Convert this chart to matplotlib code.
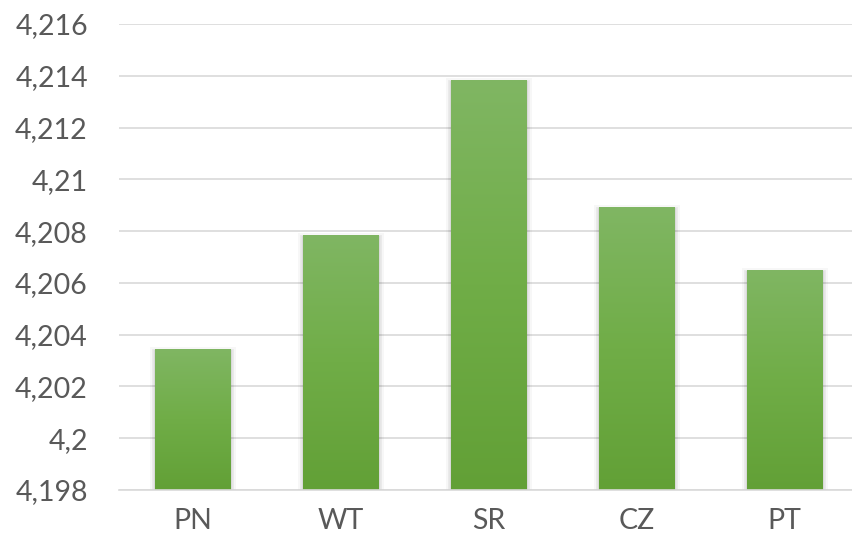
import matplotlib
matplotlib.use("Agg")
import matplotlib.pyplot as plt
import matplotlib.patheffects as pe
import numpy as np
from matplotlib.colors import LinearSegmentedColormap

categories = ["PN", "WT", "SR", "CZ", "PT"]
values = [4.20345, 4.20785, 4.21384, 4.20893, 4.2065]
yticks = [4.198, 4.200, 4.202, 4.204, 4.206, 4.208, 4.210, 4.212, 4.214, 4.216]
ytick_labels = ["4,198", "4,2", "4,202", "4,204", "4,206", "4,208", "4,21", "4,212", "4,214", "4,216"]

W, H = 852, 543
fig = plt.figure(figsize=(W / 100, H / 100), dpi=100)
ax = fig.add_axes([118.5 / W, (H - 490) / H, 740 / W, 466 / H])

font = "Lato"
text_color = "#595959"
grid_color = "#d9d9d9"

x = np.arange(len(categories))
bars = ax.bar(x, values, width=0.507, bottom=0, color="#70ad47", zorder=3)

cmap = LinearSegmentedColormap.from_list("g", ["#62a036", "#70ad47", "#80b663"])
grad = np.linspace(0, 1, 256).reshape(-1, 1)
for b in bars:
    b.set_path_effects([
        pe.Stroke(linewidth=8, foreground="black", alpha=0.03, offset=(0, -2)),
        pe.Stroke(linewidth=5, foreground="black", alpha=0.05, offset=(0, -2)),
        pe.Stroke(linewidth=2.5, foreground="black", alpha=0.07, offset=(0, -1.5)),
        pe.Normal(),
    ])
    bx, by = b.get_x(), yticks[0]
    bw, bh = b.get_width(), b.get_height()
    im = ax.imshow(grad, cmap=cmap, origin="lower", aspect="auto",
                   extent=(bx, bx + bw, by, bh), zorder=4, interpolation="bilinear")
    im.set_clip_path(b)
ax.set_xlim(-0.5, len(categories) - 0.5)
ax.set_ylim(yticks[0], yticks[-1])

ax.set_yticks(yticks)
ax.set_yticklabels(ytick_labels)
ax.set_xticks(x)
ax.set_xticklabels(categories)
for lab in ax.get_yticklabels() + ax.get_xticklabels():
    lab.set_fontfamily(font)
    lab.set_fontsize(20.5)
    lab.set_color(text_color)
ax.tick_params(axis="y", length=0, pad=22)
ax.tick_params(axis="x", length=0, pad=13)

ax.grid(axis="y", color=grid_color, linewidth=1.2, zorder=0)
ax.set_axisbelow(True)
for s in ["top", "right", "left"]:
    ax.spines[s].set_visible(False)
ax.spines["bottom"].set_color(grid_color)
ax.spines["bottom"].set_linewidth(1.2)
ax.spines["bottom"].set_zorder(5)

fig.savefig("out.png", dpi=100)
